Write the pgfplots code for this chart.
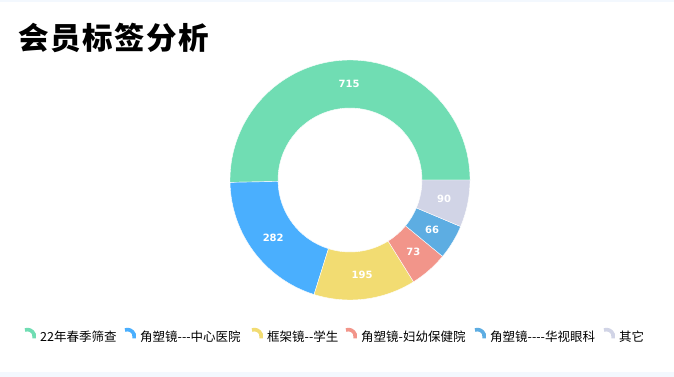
\documentclass[border=0pt]{standalone}
\usepackage{pgfplots}
\pgfplotsset{compat=1.18}
\usepackage{pgfplotstable}
\usepackage{fontspec}
\setmainfont{Noto Sans CJK SC}[Ligatures=TeXOff]
\newfontfamily\lblfont{DejaVu Sans}
\definecolor{c0}{RGB}{112,221,179}
\definecolor{c1}{RGB}{74,175,254}
\definecolor{c2}{RGB}{242,220,114}
\definecolor{c3}{RGB}{242,149,138}
\definecolor{c4}{RGB}{93,173,226}
\definecolor{c5}{RGB}{209,212,230}
\definecolor{band}{RGB}{243,248,254}
\pgfplotstableread{
idx value
0 715
1 282
2 195
3 73
4 66
5 90
}\datatable
\begin{document}
\def\total{0}%
\pgfplotsforeachungrouped \i in {0,...,5}{%
  \pgfplotstablegetelem{\i}{value}\of\datatable
  \pgfmathsetmacro\total{\total+\pgfplotsretval}%
}%
\def\cum{0}%
\pgfplotsforeachungrouped \i in {0,...,5}{%
  \pgfplotstablegetelem{\i}{value}\of\datatable
  \edef\val{\pgfplotsretval}%
  \pgfmathsetmacro\a{\cum/\total*360}%
  \pgfmathsetmacro\cum{\cum+\val}%
  \pgfmathsetmacro\b{\cum/\total*360}%
  \pgfmathsetmacro\m{(\a+\b)/2}%
  \pgfmathtruncatemacro\vv{\val}%
  \expandafter\xdef\csname wedge\i\endcsname{%
    \noexpand\fill[c\i, draw=white, line width=0.4pt, line join=round] (axis cs:350,180) ++(\a:120pt) arc[start angle=\a, end angle=\b, radius=120pt] -- ++(\b:-48pt) arc[start angle=\b, end angle=\a, radius=72pt] -- cycle;%
    \noexpand\node[text=white, inner sep=0pt, font=\noexpand\lblfont\noexpand\bfseries\noexpand\fontsize{10}{12}\noexpand\selectfont] at ([shift={(\m:96pt)}]axis cs:350,180) {\vv};%
  }%
}%
\begin{tikzpicture}
\begin{axis}[scale only axis, width=674pt, height=377pt,
  xmin=0, xmax=674, ymin=0, ymax=377, y dir=reverse,
  hide axis, clip=false]
\fill[white] (axis cs:0,0) rectangle (axis cs:674,377);
\fill[band] (axis cs:0,0) rectangle (axis cs:674,2.5);
\fill[band] (axis cs:0,372) rectangle (axis cs:674,377);
\node[anchor=base west, inner sep=0pt, font=\fontsize{30.5}{36}\selectfont\bfseries] at (axis cs:18,49.5) {会\hspace{1.6pt}员\hspace{1.6pt}标\hspace{1.6pt}签\hspace{1.6pt}分\hspace{1.6pt}析};
\csname wedge0\endcsname
\csname wedge1\endcsname
\csname wedge2\endcsname
\csname wedge3\endcsname
\csname wedge4\endcsname
\csname wedge5\endcsname
% legend
\tikzset{ic/.style={line width=3.6pt}}
\draw[c0, ic] (axis cs:25,330) arc[start angle=110, end angle=-15, radius=7pt];
\draw[c1, ic] (axis cs:125,330) arc[start angle=110, end angle=-15, radius=7pt];
\draw[c2, ic] (axis cs:252,330) arc[start angle=110, end angle=-15, radius=7pt];
\draw[c3, ic] (axis cs:346,330) arc[start angle=110, end angle=-15, radius=7pt];
\draw[c4, ic] (axis cs:475,330) arc[start angle=110, end angle=-15, radius=7pt];
\draw[c5, ic] (axis cs:604,330) arc[start angle=110, end angle=-15, radius=7pt];
\tikzset{lg/.style={anchor=base west, inner sep=0pt, font=\fontsize{12.5}{15}\selectfont}}
\node[lg] at (axis cs:40,341) {22年春季筛查};
\node[lg] at (axis cs:140,341) {角塑镜---中心医院};
\node[lg] at (axis cs:267,341) {框架镜--学生};
\node[lg] at (axis cs:361,341) {角塑镜-妇幼保健院};
\node[lg] at (axis cs:490,341) {角塑镜----华视眼科};
\node[lg] at (axis cs:619,341) {其它};
\end{axis}
\end{tikzpicture}
\end{document}
